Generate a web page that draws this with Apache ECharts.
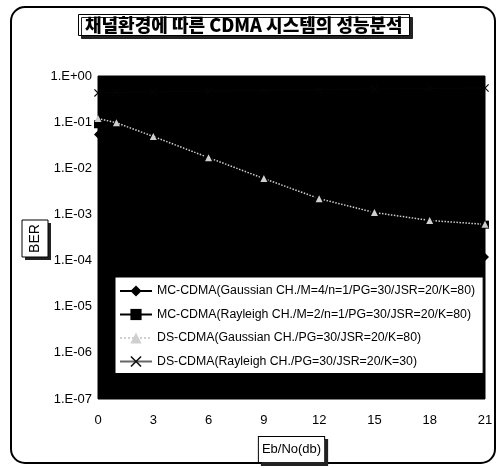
<!DOCTYPE html>
<html>
<head>
<meta charset="utf-8">
<script src="https://cdn.jsdelivr.net/npm/echarts@6/dist/echarts.min.js"></script>
<style>
  html, body { margin: 0; padding: 0; background: #fff; }
  #chart { width: 501px; height: 468px; }
</style>
</head>
<body>
<div id="chart"></div>
<script>
// 제목 / 축 이름
var chartTitle = '채널환경에 따른 CDMA 시스템의 성능분석';
var xName = 'Eb/No(db)';
var yName = 'BER';

// Eb/No 값 (dB)
var ebno = [0, 1, 3, 6, 9, 12, 15, 18, 21];

// 시리즈 이름
var names = [
  'MC-CDMA(Gaussian CH./M=4/n=1/PG=30/JSR=20/K=80)',
  'MC-CDMA(Rayleigh CH./M=2/n=1/PG=30/JSR=20/K=80)',
  'DS-CDMA(Gaussian CH./PG=30/JSR=20/K=80)',
  'DS-CDMA(Rayleigh CH./PG=30/JSR=20/K=30)'
];

// BER 값 (그림에서 읽은 값, 검은 영역 안은 추정)
var mcGauss = [0.054, 0.035, 0.014, 0.0035, 0.0011, 0.0005, 0.00026, 0.00016, 0.00012];
var mcRayl  = [0.09, 0.07, 0.04, 0.016, 0.006, 0.0025, 0.0012, 0.0008, 0.0006];
var dsGauss = [0.12, 0.097, 0.049, 0.017, 0.006, 0.0022, 0.0011, 0.00074, 0.00061];
var dsRayl  = [0.43, 0.44, 0.45, 0.47, 0.49, 0.5, 0.52, 0.54, 0.55];

function pairs(ys) {
  return ys.map(function (y, i) { return [ebno[i], y]; });
}

function expLabel(v) {
  var e = Math.round(Math.log10(v));
  var a = Math.abs(e);
  return '1.E' + (e >= 0 ? '+' : '-') + (a < 10 ? '0' : '') + a;
}

var xMark = 'path://M0,1L1,0L5,4L9,0L10,1L6,5L10,9L9,10L5,6L1,10L0,9L4,5Z';

var fontFam = '"Liberation Sans", Arial, sans-serif';

var chart = echarts.init(document.getElementById('chart'));

var option = {
  animation: false,
  backgroundColor: '#fff',
  title: {
    text: chartTitle,
    left: 78,
    top: 14,
    padding: [1, 7],
    backgroundColor: '#fff',
    borderColor: '#000',
    borderWidth: 1,
    shadowColor: '#222',
    shadowOffsetX: 3,
    shadowOffsetY: 3,
    shadowBlur: 0,
    textStyle: {
      fontFamily: '"Noto Sans CJK KR", sans-serif',
      fontWeight: 900,
      fontSize: 18,
      lineHeight: 20,
      color: '#000'
    }
  },
  graphic: [{
    // 바깥 둥근 테두리
    type: 'rect',
    shape: { x: 11, y: 7, width: 484, height: 456, r: 14 },
    style: { fill: 'none', stroke: '#000', lineWidth: 2 },
    silent: true
  }, {
    // BER 상자 (그림자 포함)
    type: 'group',
    silent: true,
    children: [{
      type: 'rect',
      shape: { x: 25, y: 223, width: 26, height: 37 },
      style: { fill: '#222' }
    }, {
      type: 'rect',
      shape: { x: 22, y: 220, width: 26, height: 37 },
      style: { fill: '#fff', stroke: '#000', lineWidth: 1 }
    }, {
      type: 'text',
      x: 35,
      y: 238.5,
      rotation: Math.PI / 2,
      style: {
        text: yName,
        font: '14px "Liberation Sans", Arial, sans-serif',
        fill: '#000',
        align: 'center',
        verticalAlign: 'middle'
      }
    }]
  }],
  grid: {
    left: 98,
    right: 16,
    top: 76,
    bottom: 68,
    show: true,
    backgroundColor: '#000',
    borderColor: '#000'
  },
  legend: {
    orient: 'vertical',
    left: 115,
    top: 277,
    width: 360,
    padding: [7, 8, 5, 4],
    itemGap: 9.5,
    itemWidth: 32,
    itemHeight: 14,
    backgroundColor: '#fff',
    borderColor: '#000',
    borderWidth: 1,
    textStyle: { fontFamily: fontFam, fontSize: 12.3, color: '#000', lineHeight: 14 },
    data: [
      { name: names[0] },
      { name: names[1] },
      { name: names[2] },
      { name: names[3], lineStyle: { color: '#666' }, itemStyle: { color: '#111' } }
    ]
  },
  xAxis: {
    type: 'value',
    min: 0,
    max: 21,
    interval: 3,
    name: xName,
    nameLocation: 'middle',
    nameGap: 38,
    nameTextStyle: {
      color: '#000',
      fontFamily: fontFam,
      fontSize: 13,
      backgroundColor: '#fff',
      borderColor: '#000',
      borderWidth: 1,
      padding: [6, 3],
      shadowColor: '#222',
      shadowOffsetX: 3,
      shadowOffsetY: 3,
      shadowBlur: 0
    },
    axisLine: { show: false },
    axisTick: { show: false },
    splitLine: { show: false },
    axisLabel: { color: '#000', fontFamily: fontFam, fontSize: 13, margin: 15 }
  },
  yAxis: {
    type: 'log',
    logBase: 10,
    min: 1e-7,
    max: 1,
    axisLine: { show: false },
    axisTick: { show: false },
    splitLine: { show: false },
    axisLabel: {
      color: '#000', fontFamily: fontFam, fontSize: 13, margin: 6,
      formatter: expLabel
    }
  },
  series: [{
    name: names[0],
    type: 'line',
    data: pairs(mcGauss),
    color: '#000',
    symbol: 'diamond',
    symbolSize: 8,
    lineStyle: { width: 1.5 }
  }, {
    name: names[1],
    type: 'line',
    data: pairs(mcRayl),
    color: '#000',
    symbol: 'rect',
    symbolSize: 8,
    lineStyle: { width: 1.5 }
  }, {
    name: names[2],
    type: 'line',
    data: pairs(dsGauss),
    color: '#cfcfcf',
    symbol: 'triangle',
    symbolSize: 7,
    lineStyle: { width: 1.5, type: 'dotted' }
  }, {
    name: names[3],
    type: 'line',
    data: pairs(dsRayl),
    color: '#050505',
    symbol: xMark,
    symbolSize: 8,
    lineStyle: { width: 1 }
  }]
};

chart.setOption(option);
</script>
</body>
</html>
